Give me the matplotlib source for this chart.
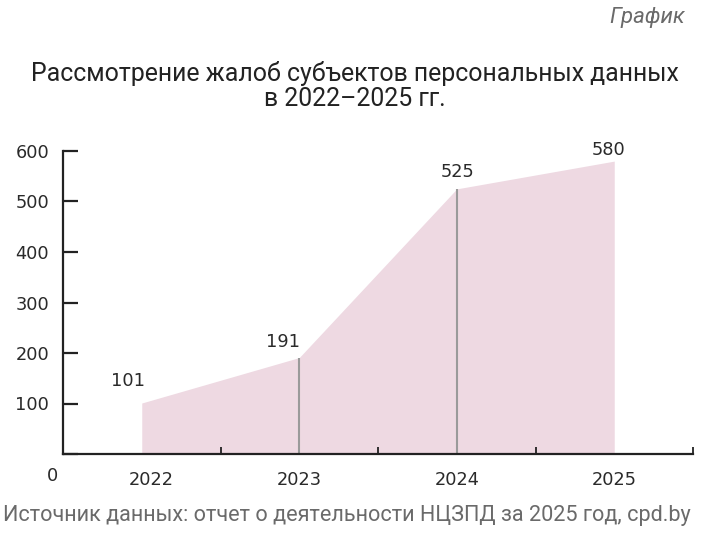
import matplotlib
matplotlib.use("Agg")
import matplotlib.pyplot as plt
from matplotlib.transforms import ScaledTranslation

plt.rcParams['font.family'] = ['Roboto', 'DejaVu Sans']

years = ["2022", "2023", "2024", "2025"]
values = [101, 191, 525, 580]
yticks = [100, 200, 300, 400, 500, 600]
title = "Рассмотрение жалоб субъектов персональных данных\nв 2022–2025 гг."
source = "Источник данных: отчет о деятельности НЦЗПД за 2025 год, cpd.by"
tag = "График"

dark = "#222222"
numfont = dict(family=["DejaVu Sans"], size=12.8, color="#2a2a2a")
fig = plt.figure(figsize=(7.05, 5.36), dpi=100)
ax = fig.add_axes([63/705, 82/536, (693-63)/705, (385-82)/536])

x = list(range(len(years)))
ax.fill_between(x, values, 0, color="#eed9e2", linewidth=0, zorder=1)
for xi, v in zip(x[1:3], values[1:3]):
    ax.vlines(xi, 0, v, color="#9a9a9a", linewidth=1.5, zorder=2)

ax.set_xlim(-0.5, 3.5)
ax.set_ylim(0, 600)

for s in ["top", "right"]:
    ax.spines[s].set_visible(False)
for s in ["left", "bottom"]:
    ax.spines[s].set_linewidth(1.6)
    ax.spines[s].set_color(dark)

ax.set_yticks([0] + yticks)
ax.set_yticklabels([""] + [str(t) for t in yticks], fontdict=numfont)
ax.tick_params(axis="y", direction="in", length=11, width=1.6, color=dark, pad=10)

ax.set_xticks([0.5, 1.5, 2.5, 3.5])
ax.set_xticklabels([])
ax.tick_params(axis="x", which="major", direction="in", length=5, width=1.3, color=dark)
ax.set_xticks(x, minor=True)
ax.set_xticklabels(years, minor=True, fontdict=numfont)
ax.tick_params(axis="x", which="minor", length=0, pad=12)
lbl = ax.get_xticklabels(minor=True)[0]
lbl.set_transform(lbl.get_transform() + ScaledTranslation(10/100, 0, fig.dpi_scale_trans))

ax.annotate("0", xy=(-0.5, 0), xytext=(-11/100*72, -22/100*72), textcoords="offset points",
            ha="center", va="center", **numfont)

offsets = [(-14, 22), (-16, 16), (1, 17), (-6, 11)]
for xi, v, (dx, dy) in zip(x, values, offsets):
    ax.annotate(str(v), xy=(xi, v), xytext=(dx*0.72, dy*0.72), textcoords="offset points",
                ha="center", va="center", **numfont)

fig.text(355/705, 1 - 86/536, title, ha="center", va="center", fontsize=17.9,
         color=dark, linespacing=1.0)
fig.text(347/705, 1 - 516/536, source, ha="center", va="center", fontsize=15.6,
         color="#6a6a6a")
fig.text(685/705, 1 - 17/536, tag, ha="right", va="center", fontsize=16, color="#6a6a6a",
         style="italic")

fig.savefig("out.png", dpi=100)
